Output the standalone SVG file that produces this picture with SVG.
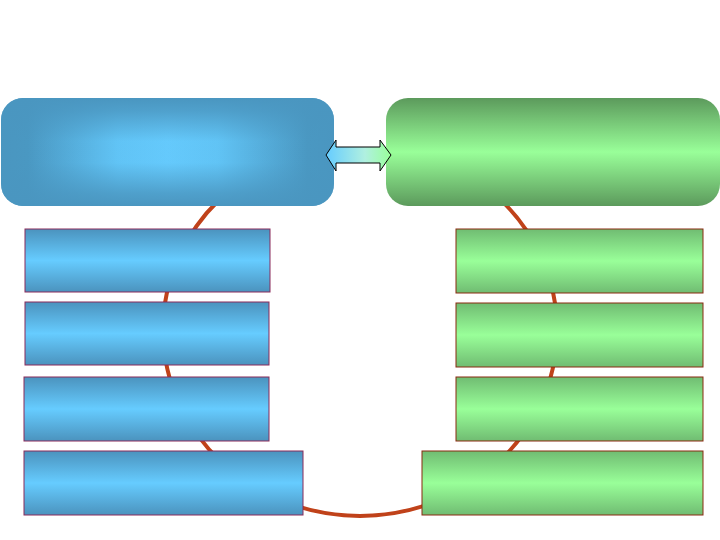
<svg xmlns="http://www.w3.org/2000/svg" width="720" height="540" viewBox="0 0 720 540">
  <defs>
    <linearGradient id="gTopBlueH" x1="0" y1="0" x2="1" y2="0">
      <stop offset="0" stop-color="#4A96C0"/>
      <stop offset="0.08" stop-color="#4A98C2"/>
      <stop offset="0.35" stop-color="#62C6F8"/>
      <stop offset="0.5" stop-color="#66CCFF"/>
      <stop offset="0.65" stop-color="#62C6F8"/>
      <stop offset="0.92" stop-color="#4A98C2"/>
      <stop offset="1" stop-color="#4A96C0"/>
    </linearGradient>
    <linearGradient id="gTopBlueV" x1="0" y1="0" x2="0" y2="1">
      <stop offset="0" stop-color="#4A96C0" stop-opacity="1"/>
      <stop offset="0.12" stop-color="#4A96C0" stop-opacity="0.8"/>
      <stop offset="0.4" stop-color="#4A96C0" stop-opacity="0.05"/>
      <stop offset="0.6" stop-color="#4A96C0" stop-opacity="0.05"/>
      <stop offset="0.88" stop-color="#4A96C0" stop-opacity="0.8"/>
      <stop offset="1" stop-color="#4A96C0" stop-opacity="1"/>
    </linearGradient>
    <linearGradient id="gTopGreen" x1="0" y1="0" x2="0" y2="1">
      <stop offset="0" stop-color="#5C9A5C"/>
      <stop offset="0.5" stop-color="#99FF99"/>
      <stop offset="1" stop-color="#5C9A5C"/>
    </linearGradient>
    <linearGradient id="gBlue" x1="0" y1="0" x2="0" y2="1">
      <stop offset="0" stop-color="#4B93BE"/>
      <stop offset="0.5" stop-color="#66CCFF"/>
      <stop offset="1" stop-color="#4B93BE"/>
    </linearGradient>
    <linearGradient id="gGreen" x1="0" y1="0" x2="0" y2="1">
      <stop offset="0" stop-color="#70BC72"/>
      <stop offset="0.5" stop-color="#99FF99"/>
      <stop offset="1" stop-color="#70BC72"/>
    </linearGradient>
    <linearGradient id="gArrow" x1="0" y1="0" x2="1" y2="0">
      <stop offset="0" stop-color="#66CCFF"/>
      <stop offset="0.6" stop-color="#B0F0E0"/>
      <stop offset="1" stop-color="#99FF99"/>
    </linearGradient>
  </defs>
  <style>
    .ring { fill: none; stroke: #C0421A; stroke-width: 4; }
    .bbox { fill: url(#gBlue); stroke: #8A2A5A; stroke-width: 1; }
    .gbox { fill: url(#gGreen); stroke: #8A2A10; stroke-width: 1; }
    .arrow { fill: url(#gArrow); stroke: #000000; stroke-width: 1; }
  </style>
  <rect width="720" height="540" fill="#FFFFFF"/>

  <g id="ring">
    <path class="ring" d="M219,200 A197,186 0 1,0 501,200"/>
  </g>

  <g id="top-left">
    <rect x="1" y="98" width="333" height="108" rx="22" ry="22" fill="url(#gTopBlueH)"/>
    <rect x="1" y="98" width="333" height="108" rx="22" ry="22" fill="url(#gTopBlueV)"/>
  </g>
  <g id="top-right">
    <rect x="386" y="98" width="334" height="108" rx="22" ry="22" fill="url(#gTopGreen)"/>
  </g>

  <g id="connectors">
    <path class="arrow" d="M326,155 L336,140 L336,147 L380,147 L380,140 L391,155 L380,171 L380,163 L336,163 L336,171 Z"/>
  </g>

  <g id="left-1"><rect class="bbox" x="25" y="229" width="245" height="63"/></g>
  <g id="left-2"><rect class="bbox" x="25" y="302" width="244" height="63"/></g>
  <g id="left-3"><rect class="bbox" x="24" y="377" width="245" height="64"/></g>
  <g id="left-4"><rect class="bbox" x="24" y="451" width="279" height="64"/></g>

  <g id="right-1"><rect class="gbox" x="456" y="229" width="247" height="64"/></g>
  <g id="right-2"><rect class="gbox" x="456" y="303" width="247" height="64"/></g>
  <g id="right-3"><rect class="gbox" x="456" y="377" width="247" height="64"/></g>
  <g id="right-4"><rect class="gbox" x="422" y="451" width="281" height="64"/></g>
</svg>
